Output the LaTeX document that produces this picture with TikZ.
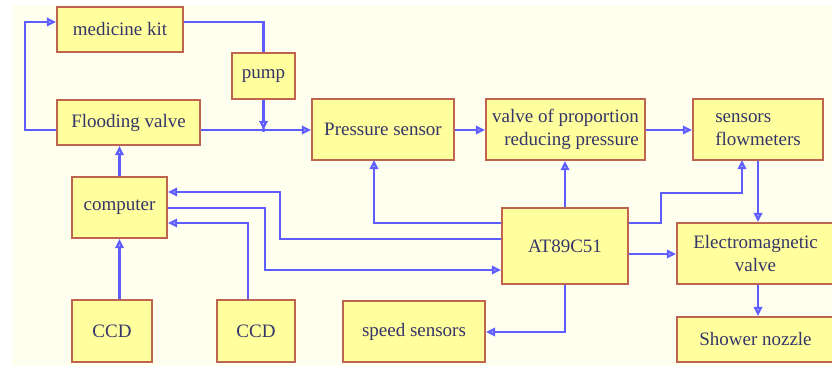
\documentclass[tikz,border=0pt]{standalone}
\usepackage{fontspec}
\setmainfont{Liberation Serif}
\usetikzlibrary{arrows.meta}
\definecolor{paper}{HTML}{FFFFF0}
\definecolor{boxfill}{HTML}{FFFF9E}
\definecolor{boxedge}{HTML}{BF6450}
\definecolor{wire}{HTML}{5E5EFF}
\definecolor{ink}{HTML}{35356A}
\tikzset{
  block/.style={draw=boxedge, fill=boxfill, line width=1.4pt, inner sep=1pt,
    text=ink, font=\fontsize{13.5}{16}\selectfont},
  link/.style={draw=wire, line width=1.6pt, -{Triangle[open, length=6.5pt, width=6pt]}},
  plain/.style={draw=wire, line width=1.6pt}
}
\begin{document}
\begin{tikzpicture}[x=0.025cm, y=-0.025cm]
  % Frame and background
  \useasboundingbox (0,0) rectangle (832,366);
  \fill[paper] (12,5) rectangle (832,366);
  % Boxes
  \node[block, minimum width=3.15cm,  minimum height=1.125cm] (kit)    at (120,29.5)  {medicine kit};
  \node[block, minimum width=1.575cm, minimum height=1.15cm]  (pump)   at (263.5,76)  {pump};
  \node[block, minimum width=3.575cm, minimum height=1.125cm] (flood)  at (128.5,122.5) {Flooding valve};
  \node[block, minimum width=3.55cm,  minimum height=1.525cm] (press)  at (383,129.5) {Pressure sensor};
  \node[block, minimum width=3.975cm, minimum height=1.525cm, align=right] (prop) at (565.5,129.5) {valve of proportion\\reducing pressure};
  \node[block, minimum width=3.25cm,  minimum height=1.525cm, align=left]  (flow) at (758,129.5) {sensors\\flowmeters};
  \node[block, minimum width=2.375cm, minimum height=1.525cm] (comp)   at (119.5,207.5) {computer};
  \node[block, minimum width=3.15cm,  minimum height=1.9cm]   (mcu)    at (565,246)   {AT89C51};
  \node[block, minimum width=3.925cm, minimum height=1.525cm, align=center] (emv) at (755.5,253.5) {Electromagnetic\\valve};
  \node[block, minimum width=2.0cm,   minimum height=1.55cm]  (ccdA)   at (112,331)   {CCD};
  \node[block, minimum width=1.95cm,  minimum height=1.55cm]  (ccdB)   at (256,331)   {CCD};
  \node[block, minimum width=3.55cm,  minimum height=1.525cm] (speed)  at (414,331.5) {speed sensors};
  \node[block, minimum width=3.925cm, minimum height=1.125cm] (nozzle) at (755.5,339.5) {Shower nozzle};
  % Line levels
  \coordinate (main) at (0,130);
  \coordinate (kitl) at (0,22);
  \coordinate (hiA) at (0,192);
  \coordinate (hiB) at (0,208);
  \coordinate (hiC) at (0,223);
  \coordinate (hiD) at (0,239);
  \coordinate (hiE) at (0,254);
  \coordinate (hiF) at (0,270);
  \coordinate (hiG) at (0,332);
  % Upper loop
  \draw[link] (flood.west |- main) -- (25,130) -- (25,22) -- (kit.west |- kitl);
  \draw[plain] (kit.east |- kitl) -| (pump.north);
  \draw[link] (pump.south) -- (pump.south |- main);
  \fill[wire] (pump.south |- main) circle (2);
  % Main chain
  \draw[link] (flood.east |- main) -- (press.west |- main);
  \draw[link] (press.east |- main) -- (prop.west |- main);
  \draw[link] (prop.east |- main) -- (flow.west |- main);
  \draw[link] (flow.south) -- (flow.south |- emv.north);
  \draw[link] (emv.south -| flow.south) -- (nozzle.north -| flow.south);
  % Controller links
  \draw[link] (mcu.east |- hiC) -- (661,223) -- (661,193) -- (742,193) -- (742,160);
  \draw[link] (mcu.north) -- (mcu.north |- prop.south);
  \draw[link] (mcu.east |- hiE) -- (emv.west |- hiE);
  \draw[link] (mcu.south) |- (speed.east |- hiG);
  \draw[link] (mcu.west |- hiC) -| (374,160);
  \draw[link] (mcu.west |- hiD) -- (280,239) |- (comp.east |- hiA);
  \draw[link] (comp.east |- hiB) -- (265,208) |- (mcu.west |- hiF);
  % Computer side
  \draw[link] (ccdB.north -| 248,0) |- (comp.east |- hiC);
  \draw[link] (ccdA.north -| comp.south) -- (comp.south);
  \draw[link] (comp.north) -- (flood.south -| comp.north);
\end{tikzpicture}
\end{document}
